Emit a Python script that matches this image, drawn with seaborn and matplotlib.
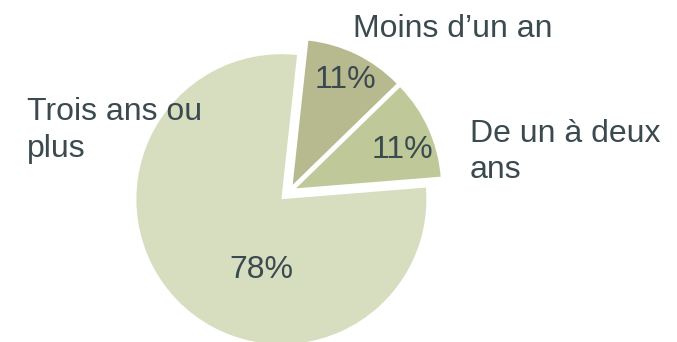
import matplotlib
matplotlib.use("Agg")
import matplotlib.pyplot as plt
import seaborn as sns

# Durée – share of respondents per category
categories = ["Moins d\u2019un an", "De un \u00e0 deux\nans", "Trois ans ou\nplus"]
shares = [11, 11, 78]
pct_labels = ["11%", "11%", "78%"]
colors = ["#B7B98F", "#BEC898", "#D7DEC0"]

sns.set_theme(style="white")
plt.rcParams["font.family"] = ["Liberation Sans", "DejaVu Sans"]

TEXT = "#3B4A4F"
W, H = 677, 342
R = 145

fig = plt.figure(figsize=(W / 100, H / 100), dpi=100)
ax = fig.add_axes([0, 0, 1, 1])

# explode offsets are in data units (pixels here)
wedges, _ = ax.pie(
    shares,
    colors=colors,
    startangle=83.8,
    counterclock=False,
    explode=[0.05 * R, 0.05 * R, 0.078 * R],
    radius=R,
    center=(289.5, 150.7),
    frame=True,
    wedgeprops=dict(linewidth=0),
)
ax.set_xlim(0, W)
ax.set_ylim(0, H)
ax.set_aspect("equal")
ax.axis("off")

fs = 23
# category names (baseline of the last line)
name_pos = [(353, H - 37.3), (470, H - 178.5), (27, H - 157)]
for name, (x, y) in zip(categories, name_pos):
    ax.text(x, y, name, ha="left", va="baseline", fontsize=fs, color=TEXT,
            linespacing=1.3)

# percentages inside the slices
pct_pos = [(345, H - 88), (402, H - 158), (261.3, H - 278.3)]
for lab, (x, y) in zip(pct_labels, pct_pos):
    ax.text(x, y, lab, ha="center", va="baseline", fontsize=fs, color=TEXT)

fig.savefig("out.png", dpi=100, facecolor="white")
